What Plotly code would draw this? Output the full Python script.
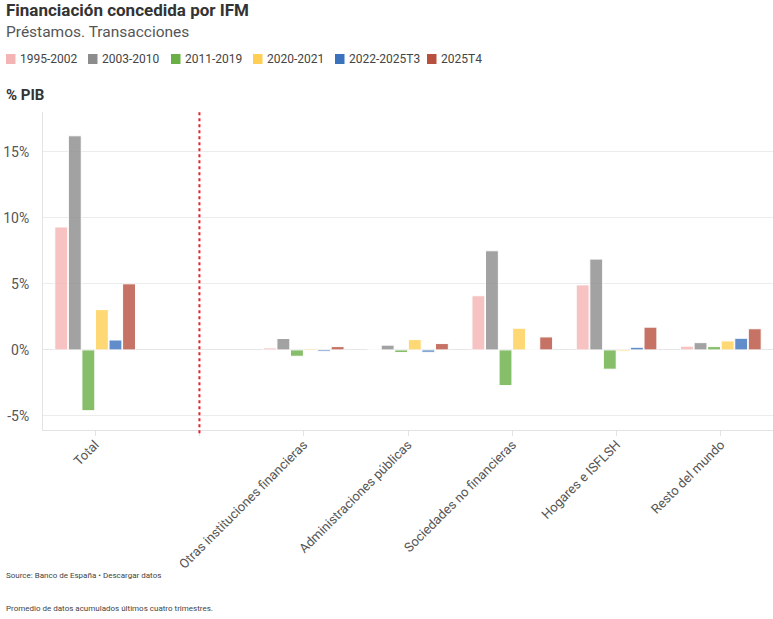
import plotly.graph_objects as go

categories = ["Total", " ", "Otras instituciones financieras", "Administraciones públicas",
              "Sociedades no financieras", "Hogares e ISFLSH", "Resto del mundo"]
series_names = ["1995-2002", "2003-2010", "2011-2019", "2020-2021", "2022-2025T3", "2025T4"]
v_1995_2002 = [9.3, None, 0.15, 0.02, 4.1, 4.92, 0.28]
v_2003_2010 = [16.2, None, 0.86, 0.36, 7.5, 6.87, 0.55]
v_2011_2019 = [-4.6, None, -0.48, -0.2, -2.7, -1.46, 0.25]
v_2020_2021 = [3.05, None, 0.1, 0.78, 1.64, -0.1, 0.68]
v_2022_2025T3 = [0.75, None, -0.13, -0.18, 0.03, 0.2, 0.88]
v_2025T4 = [5.0, None, 0.25, 0.48, 0.98, 1.72, 1.6]
series_values = [v_1995_2002, v_2003_2010, v_2011_2019, v_2020_2021, v_2022_2025T3, v_2025T4]
colors = ["#f4b4b4", "#8c8c8c", "#6aaf45", "#ffcf55", "#3a72bd", "#b8503f"]
y_ticks = [-5, 0, 5, 10, 15]
y_tick_labels = ["-5%", "0%", "5%", "10%", "15%"]

FONT = "Roboto, Arial, sans-serif"
W, H = 773, 619
L, R, T, B = 43, 0, 112, 189
PW = W - L - R
PH = H - T - B

def px_x(px):
    return (px - L) / PW

def px_y(py):
    return 1 - (py - T) / PH

fig = go.Figure()
for name, vals, col in zip(series_names, series_values, colors):
    fig.add_trace(go.Bar(x=categories, y=vals, name=name, opacity=0.8,
                         marker=dict(color=col, line=dict(color="white", width=1))))

fig.add_shape(type="line", xref="x", yref="paper", x0=1, x1=1, y0=-0.01, y1=1,
              line=dict(color="#e8202a", width=2, dash="dot"))

# manual legend (compact, like the reference)
legend_x = [6, 88, 171, 253, 335, 427]
legend_y = 59
ann = []
for lx, name, col in zip(legend_x, series_names, colors):
    fig.add_shape(type="rect", xref="paper", yref="paper",
                  x0=px_x(lx), x1=px_x(lx + 9.5), y0=px_y(legend_y + 5), y1=px_y(legend_y - 5),
                  fillcolor=col, line=dict(width=0))
    ann.append(dict(text=name, xref="paper", yref="paper", x=px_x(lx + 12), y=px_y(legend_y),
                    xanchor="left", yanchor="middle", showarrow=False,
                    font=dict(size=12, color="#444444", family=FONT)))

ann += [
    dict(text="<b>Financiación concedida por IFM</b>", xref="paper", yref="paper",
         x=px_x(4), y=px_y(10), xanchor="left", yanchor="middle", showarrow=False,
         font=dict(size=17, color="#333333", family=FONT)),
    dict(text="Préstamos. Transacciones", xref="paper", yref="paper",
         x=px_x(4), y=px_y(32), xanchor="left", yanchor="middle", showarrow=False,
         font=dict(size=15.5, color="#555555", family=FONT)),
    dict(text="<b>% PIB</b>", xref="paper", yref="paper",
         x=px_x(4), y=px_y(95), xanchor="left", yanchor="middle", showarrow=False,
         font=dict(size=15, color="#333333", family=FONT)),
    dict(text="Source: Banco de España • Descargar datos", xref="paper", yref="paper",
         x=px_x(4), y=px_y(575), xanchor="left", yanchor="middle", showarrow=False,
         font=dict(size=8, color="#444444", family=FONT)),
    dict(text="Promedio de datos acumulados últimos cuatro trimestres.", xref="paper", yref="paper",
         x=px_x(4), y=px_y(608), xanchor="left", yanchor="middle", showarrow=False,
         font=dict(size=8, color="#444444", family=FONT)),
]

fig.update_layout(
    width=W, height=H,
    margin=dict(l=L, r=R, t=T, b=B, autoexpand=False),
    plot_bgcolor="white", paper_bgcolor="white",
    font=dict(family=FONT, color="#555555", size=12),
    barmode="group", bargap=0.22, bargroupgap=0.05,
    showlegend=False,
    xaxis=dict(type="category", tickangle=-45, ticks="outside", ticklen=5, tickcolor="#e3e3e3",
               showline=True, linecolor="#e3e3e3", showgrid=False, automargin=False,
               ticklabelstandoff=-4,
               tickfont=dict(size=13, color="#555555"), range=[-0.5, 6.5]),
    yaxis=dict(range=[-6.06, 18.0], tickvals=y_ticks, ticktext=y_tick_labels,
               showgrid=True, gridcolor="#ececec", gridwidth=1, zeroline=True,
               zerolinecolor="#e6e6e6", zerolinewidth=1, automargin=False,
               showline=True, linecolor="#e3e3e3", ticks="", ticklabelstandoff=10,
               tickfont=dict(size=14, color="#555555")),
    annotations=ann,
)

fig.write_html("out.html", config={"displayModeBar": False},
               post_script="document.body.style.margin='0';document.body.style.overflow='hidden';")
